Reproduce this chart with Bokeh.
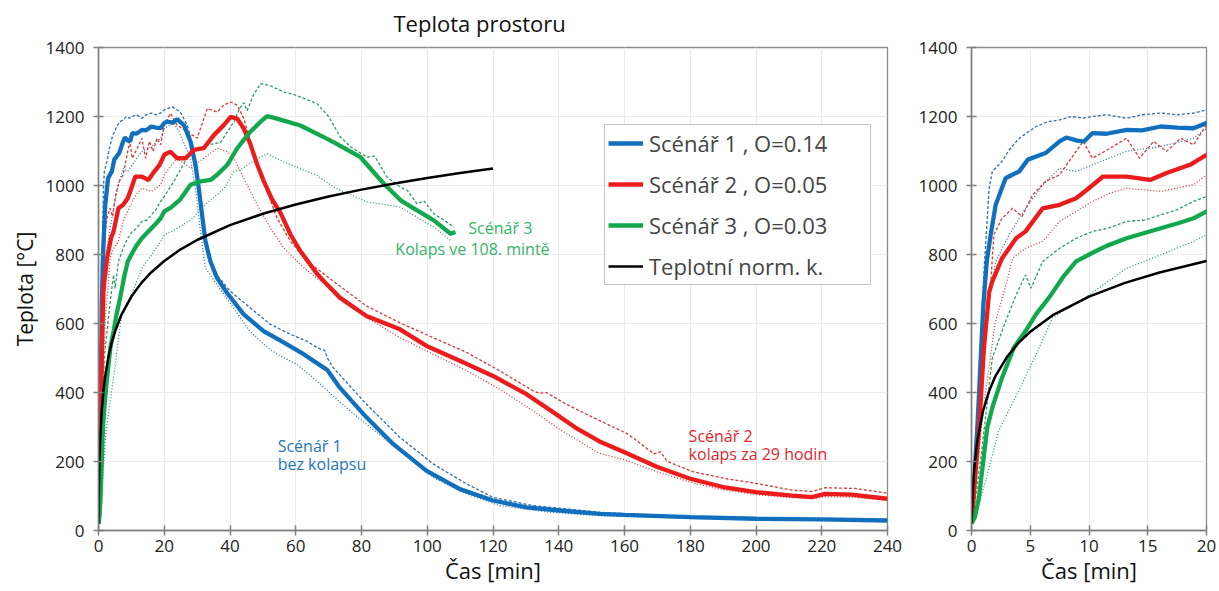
from bokeh.plotting import figure
from bokeh.layouts import row
from bokeh.models import Legend, LegendItem, Label, Range1d, FixedTicker
from bokeh.embed import file_html
from bokeh.resources import INLINE

# ---------------- data ----------------
# Scenario 1, O=0.14 (blue): mean, upper, lower
t1m = [0, 0.5, 1.0, 1.3, 1.63, 2.06, 2.9, 4.06, 4.8, 5.5, 6.3, 7.5, 8.06, 9.0, 9.6, 10.3, 11.5, 13.2, 14.5, 16.1, 17.5, 18.9, 20.0, 20.9, 22.5, 23.9, 26.0, 28.0, 29.5, 30.5, 31.5, 32.5, 34.0, 36.0, 39.0, 44.1, 50.2, 56.3, 62.4, 68.5, 69.6, 73.4, 81.5, 89.6, 99.8, 109.9, 120, 130.2, 140.3, 152.4, 160, 180, 200, 220, 240]
T1m = [20, 300, 650, 780, 857, 944, 1021, 1041, 1075, 1084, 1094, 1128, 1139, 1130, 1128, 1152, 1150, 1161, 1160, 1171, 1168, 1166, 1181, 1185, 1182, 1192, 1175, 1127, 1060, 992, 915, 840, 781, 733, 690, 627, 578, 545, 511, 472, 465, 414, 328, 251, 173, 120, 87, 67, 58, 48, 45, 39, 34, 32, 29]
t1u = [0, 0.5, 1.06, 1.5, 1.77, 2.6, 3.2, 4.06, 5.5, 6.5, 7.5, 8.5, 9.5, 10.3, 11.5, 13.2, 14.5, 16.1, 17.5, 18.9, 20, 22.4, 24.9, 27, 28.5, 30, 31, 32.5, 35, 40, 46.1, 52.2, 58.3, 63.4, 66.5, 68.8, 69.6, 71.4, 81.5, 91.7, 101.8, 112, 120, 132.2, 152.4, 170, 200, 240]
T1u = [20, 350, 750, 992, 1041, 1070, 1103, 1137, 1171, 1185, 1190, 1200, 1195, 1200, 1205, 1195, 1205, 1210, 1205, 1210, 1219, 1228, 1213, 1175, 1122, 1031, 935, 838, 752, 694, 646, 598, 569, 549, 530, 522, 500, 472, 366, 270, 193, 135, 96, 72, 53, 43, 36, 31]
t1l = [0, 0.5, 1.34, 2.06, 3.2, 4.6, 6.06, 7.5, 8.9, 10.3, 13.2, 16.1, 18.9, 20, 22.9, 24.5, 28, 29.6, 31, 32.5, 36, 41, 46, 50.2, 54.3, 60.3, 66.4, 72.5, 76.5, 81.5, 91.7, 101.8, 112, 122, 137.2, 152.4, 180, 240]
T1l = [20, 250, 640, 780, 857, 934, 1002, 1050, 1041, 1060, 1099, 1113, 1137, 1166, 1180, 1156, 1079, 983, 867, 761, 713, 646, 578, 540, 511, 482, 434, 380, 347, 308, 231, 154, 106, 72, 53, 43, 35, 28]

# Scenario 2, O=0.05 (red)
t2m = [0, 0.63, 1.06, 1.5, 1.77, 2.6, 3.8, 4.6, 6.06, 7.5, 8.9, 9.8, 11.2, 13.2, 15.2, 16.6, 18.6, 20, 21.9, 23.9, 26.5, 29, 32, 35.1, 38.1, 40.2, 42.2, 44.2, 46.2, 48.3, 50.3, 52.8, 55.4, 58.4, 61.4, 66.4, 69.6, 73.4, 81.5, 91.7, 99.8, 109.9, 120, 130.2, 140.3, 145.6, 152.4, 160, 170, 180, 190, 200, 211, 217, 221, 229, 240]
T2m = [20, 288, 530, 690, 722, 789, 847, 867, 934, 944, 963, 987, 1026, 1026, 1016, 1036, 1060, 1089, 1098, 1079, 1079, 1103, 1108, 1146, 1175, 1199, 1194, 1165, 1120, 1060, 1012, 960, 920, 858, 810, 745, 712, 675, 622, 583, 535, 492, 448, 395, 330, 295, 258, 227, 184, 150, 126, 111, 101, 97, 106, 104, 92]
t2u = [0, 0.8, 1.6, 1.9, 2.6, 3.5, 4.3, 5.2, 6.3, 7.5, 8.3, 9.5, 10.3, 11.8, 13.2, 14.3, 15.5, 16.6, 17.8, 18.9, 20, 21.9, 23.9, 27, 30, 33.1, 36.1, 38.1, 40.2, 42.2, 44.2, 46.2, 48.3, 51.3, 54.3, 58.4, 63.4, 71.4, 81.5, 91.7, 101.8, 112, 122, 132.2, 134, 136.2, 142.3, 151, 161, 169, 171, 173, 181, 191, 201, 211, 217, 221, 230, 240]
T2u = [20, 400, 700, 857, 905, 934, 910, 973, 1012, 1031, 1070, 1128, 1079, 1108, 1137, 1079, 1128, 1099, 1137, 1118, 1176, 1209, 1175, 1156, 1137, 1223, 1213, 1233, 1242, 1233, 1194, 1127, 1060, 983, 906, 838, 781, 723, 651, 602, 559, 516, 463, 405, 398, 400, 366, 325, 280, 222, 228, 200, 170, 150, 135, 117, 113, 124, 122, 108]
t2l = [0, 1.0, 2.0, 3.0, 3.5, 4.6, 6.06, 7.5, 8.9, 10.3, 11.8, 13.2, 16.1, 18.9, 20, 23.9, 28, 32, 36.1, 39.2, 41.2, 44.2, 48.3, 52.3, 56.4, 62.4, 71.4, 81.5, 91.7, 101.8, 112, 122, 132.2, 140, 152, 160, 170, 180, 190, 200, 210, 217, 221, 229, 240]
T2l = [20, 350, 600, 720, 789, 818, 838, 896, 925, 954, 978, 992, 983, 1002, 1031, 1079, 1050, 1079, 1108, 1098, 1079, 1021, 944, 877, 819, 762, 694, 617, 559, 511, 463, 410, 347, 295, 225, 205, 170, 140, 118, 104, 96, 92, 98, 97, 87]

# Scenario 3, O=0.03 (green)
t3m = [0, 0.3, 0.63, 1.34, 1.77, 2.6, 3.6, 4.6, 5.5, 6.6, 7.8, 8.9, 10.3, 11.5, 13.2, 14.5, 16.1, 17.5, 18.9, 20, 21.9, 24.9, 28, 31, 34.1, 36.1, 39.2, 42.2, 44.2, 46.2, 49.3, 51.3, 54.3, 61.4, 68.5, 71.6, 79.7, 86.8, 91.9, 96.9, 102, 107.1, 108.6]
T3m = [20, 40, 95, 298, 356, 443, 530, 578, 627, 675, 735, 780, 805, 825, 847, 860, 876, 890, 905, 925, 935, 960, 1002, 1012, 1016, 1031, 1060, 1108, 1132, 1156, 1185, 1201, 1194, 1174, 1140, 1125, 1082, 1005, 957, 928, 899, 860, 865]
t3u = [0, 0.5, 0.9, 1.77, 2.9, 3.8, 4.6, 5.06, 6.06, 7.5, 8.9, 10.3, 11.5, 13.2, 14.8, 16.1, 17.5, 18.9, 20, 22.9, 28, 33.1, 37.1, 41.2, 43, 44.2, 45.2, 47, 49.3, 52, 56.4, 60, 66.5, 70, 73.6, 77, 81.7, 84, 87.8, 91.9, 94, 96.9, 99, 102, 105, 108.1]
T3u = [20, 130, 240, 500, 606, 683, 741, 702, 780, 818, 847, 867, 875, 896, 900, 915, 930, 954, 968, 1012, 1098, 1117, 1125, 1185, 1225, 1240, 1217, 1260, 1295, 1290, 1271, 1262, 1237, 1200, 1140, 1110, 1082, 1085, 1024, 995, 985, 947, 955, 918, 900, 879]
t3l = [0, 0.2, 1.2, 2.3, 4, 5.5, 6.9, 8, 9, 10.3, 13.2, 16.1, 18.9, 20, 22.9, 28, 33.1, 38.1, 41.2, 43.2, 47.2, 51.3, 56.4, 66.5, 71.6, 81.7, 87, 91.9, 96.9, 102, 107.1]
T3l = [20, 25, 143, 288, 404, 510, 617, 640, 660, 690, 760, 799, 838, 857, 870, 900, 950, 990, 1040, 1045, 1072, 1092, 1068, 1029, 995, 952, 945, 937, 908, 879, 841]

# Standard temperature curve (Teplotní norm. k.)
tiso = [0, 0.1, 0.25, 0.5, 1, 1.5, 2, 3, 4, 5, 7, 10, 13, 16, 20, 25, 30, 40, 50, 60, 70, 80, 90, 100, 110, 120]
Tiso = [20, 108, 185, 261, 349, 404, 445, 502, 544, 576, 626, 678, 717, 748, 781, 815, 842, 885, 918, 945, 968, 988, 1006, 1022, 1036, 1049]

legend_labels = ["Scénář 1 , O=0.14", "Scénář 2 , O=0.05", "Scénář 3 , O=0.03", "Teplotní norm. k."]
main_xticks = [0, 20, 40, 60, 80, 100, 120, 140, 160, 180, 200, 220, 240]
zoom_xticks = [0, 5, 10, 15, 20]
yticks = [0, 200, 400, 600, 800, 1000, 1200, 1400]

# ---------------- styling ----------------
BLUE, RED, GREEN = "#1170BE", "#EC1C1C", "#12A84E"
BLUE_T, RED_T, GREEN_T = "#2E6DAA", "#D33B3B", "#2E9C66"
AXFONT = "Open Sans"


def style(p, xticks):
    p.xaxis.ticker = FixedTicker(ticks=xticks)
    p.yaxis.ticker = FixedTicker(ticks=yticks)
    for ax in (p.xaxis[0], p.yaxis[0]):
        ax.axis_line_color = "#7f7f7f"
        ax.axis_line_width = 1.5
        ax.major_tick_line_color = "#7f7f7f"
        ax.major_tick_line_width = 1.5
        ax.major_tick_in = 5
        ax.major_tick_out = 5
        ax.minor_tick_line_color = None
        ax.major_label_text_font = AXFONT
        ax.major_label_text_font_size = "17px"
        ax.major_label_text_color = "#222222"
        ax.major_label_standoff = 9
        ax.axis_label_text_font = AXFONT
        ax.axis_label_text_font_style = "normal"
        ax.axis_label_text_color = "#111111"
    p.xaxis.major_label_standoff = 4
    p.xaxis.axis_label_text_font_size = "22px"
    p.yaxis.axis_label_text_font_size = "21px"
    p.xaxis.axis_label_standoff = 0
    p.yaxis.axis_label_standoff = 4
    p.xgrid.grid_line_color = "#ebebeb"
    p.ygrid.grid_line_color = "#ebebeb"
    p.outline_line_color = "#8c8c8c"
    p.outline_line_width = 1.3
    p.background_fill_color = "white"
    p.border_fill_color = "white"


def draw(p):
    p.line(t1u, T1u, color=BLUE_T, line_width=1.3, line_dash="3 2")
    p.line(t1l, T1l, color=BLUE_T, line_width=1.3, line_dash="1 2")
    p.line(t2u, T2u, color=RED_T, line_width=1.3, line_dash="3 2")
    p.line(t2l, T2l, color=RED_T, line_width=1.3, line_dash="1 2")
    p.line(t3u, T3u, color=GREEN_T, line_width=1.3, line_dash="3 2")
    p.line(t3l, T3l, color=GREEN_T, line_width=1.3, line_dash="1 2")
    r1 = p.line(t1m, T1m, color=BLUE, line_width=4.3)
    r2 = p.line(t2m, T2m, color=RED, line_width=4.3)
    r3 = p.line(t3m, T3m, color=GREEN, line_width=4.3)
    r4 = p.line(tiso, Tiso, color="black", line_width=2.5)
    return [r1, r2, r3, r4]


# ---------------- main panel ----------------
p1 = figure(width=907, height=591, x_range=Range1d(0, 240), y_range=Range1d(0, 1400),
            output_backend="svg", toolbar_location=None,
            min_border_left=98, min_border_right=20, min_border_top=47, min_border_bottom=61,
            title="Teplota prostoru")
p1.title.align = "left"
p1.title.offset = 295
p1.title.standoff = 15
p1.title.vertical_align = "top"
p1.title.text_font = AXFONT
p1.title.text_font_size = "22px"
p1.title.text_font_style = "normal"
p1.title.text_color = "#111111"
style(p1, main_xticks)
p1.xaxis.axis_label = "Čas [min]"
p1.yaxis.axis_label = "Teplota [°C]"
rs = draw(p1)

legend = Legend(items=[LegendItem(label=l, renderers=[r]) for l, r in zip(legend_labels, rs)],
                location=(506, 245), label_text_font=AXFONT, label_text_font_size="22px",
                glyph_width=35, glyph_height=28, label_height=28, label_width=218,
                spacing=11, padding=3, label_standoff=6,
                border_line_color="#888888", border_line_width=1.2,
                background_fill_alpha=1.0)
p1.add_layout(legend)

ann = [
    ("Scénář 3", 112.5, 878, "#35B36A"),
    ("Kolaps ve 108. mintě", 90.3, 817, "#35B36A"),
    ("Scénář 1", 54.5, 246, "#2476BB"),
    ("bez kolapsu", 54.5, 194, "#2476BB"),
    ("Scénář 2", 179.5, 275, "#E5242B"),
    ("kolaps za 29 hodin", 179.5, 223, "#E5242B"),
]
for txt, x, y, c in ann:
    p1.add_layout(Label(x=x, y=y, text=txt, text_color=c, text_font=AXFONT,
                        text_font_size="16px", text_baseline="middle", text_align="left"))

# ---------------- zoom panel ----------------
p2 = figure(width=312, height=591, x_range=Range1d(0, 20), y_range=Range1d(0, 1400),
            output_backend="svg", toolbar_location=None,
            min_border_left=64, min_border_right=13, min_border_top=47, min_border_bottom=61)
style(p2, zoom_xticks)
p2.xaxis.axis_label = "Čas [min]"
draw(p2)

layout = row(p1, p2)
open("out.html", "w").write(file_html(layout, INLINE))
